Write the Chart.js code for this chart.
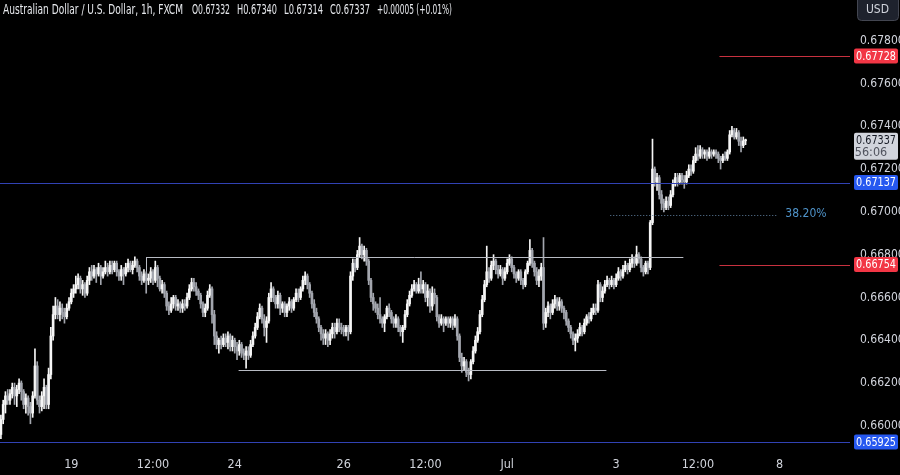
<!DOCTYPE html>
<html lang="en">
<head>
<meta charset="UTF-8">
<title>AUDUSD 1h</title>
<script src="https://cdn.jsdelivr.net/npm/chart.js"></script>
<style>
  html, body { margin: 0; padding: 0; background: #000; overflow: hidden; }
  #wrap { width: 900px; height: 475px; }
</style>
</head>
<body>
<div id="wrap"><canvas id="chart" width="900" height="475"></canvas></div>
<script>
// 1h candles, hour 0 = Jun 19 00:00 (weekends skipped), first candle is hour -31
const firstHour = -31;

const opens = [
  0.6596,0.6603,0.6610,0.6614,0.6612,0.6615,0.6618,0.6614,0.6617,0.6620,
  0.6616,0.6610,0.6613,0.6609,0.6606,0.6614,0.6628,0.6612,0.6609,0.6614,
  0.6618,0.6610,0.6624,0.6642,0.6652,0.6656,0.6652,0.6655,0.6653,0.6651,
  0.6655,0.6658,0.6662,0.6664,0.6666,0.6669,0.6664,0.6666,0.6662,0.6668,
  0.6672,0.6670,0.6673,0.6671,0.6674,0.6670,0.6672,0.6674,0.6672,0.6675,
  0.6673,0.6676,0.6672,0.6670,0.6673,0.6671,0.6674,0.6676,0.6673,0.6675,
  0.6677,0.6674,0.6670,0.6668,0.6671,0.6668,0.6669,0.6672,0.6668,0.6674,
  0.6669,0.6664,0.6666,0.6662,0.6656,0.6654,0.6657,0.6660,0.6656,0.6657,
  0.6655,0.6657,0.6656,0.6660,0.6664,0.6667,0.6665,0.6663,0.6661,0.6657,
  0.6653,0.6655,0.6661,0.6664,0.6652,0.6642,0.6638,0.6640,0.6638,0.6641,
  0.6639,0.6642,0.6637,0.6640,0.6637,0.6635,0.6638,0.6634,0.6633,0.6635,
  0.6633,0.6638,0.6642,0.6646,0.6651,0.6655,0.6650,0.6646,0.6649,0.6660,
  0.6664,0.6660,0.6657,0.6661,0.6655,0.6657,0.6653,0.6656,0.6658,0.6655,
  0.6659,0.6662,0.6660,0.6664,0.6668,0.6670,0.6666,0.6662,0.6657,0.6653,
  0.6650,0.6646,0.6643,0.6641,0.6643,0.6640,0.6643,0.6646,0.6644,0.6648,
  0.6646,0.6645,0.6644,0.6646,0.6644,0.6670,0.6676,0.6674,0.6680,0.6684,
  0.6680,0.6682,0.6677,0.6668,0.6660,0.6657,0.6655,0.6652,0.6650,0.6648,
  0.6651,0.6655,0.6653,0.6650,0.6648,0.6650,0.6646,0.6644,0.6646,0.6652,
  0.6657,0.6661,0.6664,0.6666,0.6663,0.6666,0.6664,0.6666,0.6660,0.6663,
  0.6656,0.6662,0.6660,0.6651,0.6648,0.6650,0.6648,0.6650,0.6648,0.6650,
  0.6647,0.6650,0.6642,0.6632,0.6628,0.6630,0.6625,0.6624,0.6630,0.6635,
  0.6640,0.6644,0.6652,0.6659,0.6666,0.6672,0.6669,0.6675,0.6677,0.6673,
  0.6671,0.6673,0.6669,0.6672,0.6676,0.6678,0.6674,0.6671,0.6669,0.6672,
  0.6668,0.6666,0.6672,0.6676,0.6682,0.6676,0.6672,0.6668,0.6670,0.6674,
  0.6648,0.6653,0.6656,0.6653,0.6657,0.6659,0.6656,0.6658,0.6655,0.6653,
  0.6649,0.6646,0.6643,0.6640,0.6641,0.6643,0.6646,0.6644,0.6648,0.6651,
  0.6650,0.6653,0.6655,0.6654,0.6666,0.6660,0.6663,0.6666,0.6668,0.6666,
  0.6668,0.6666,0.6669,0.6672,0.6670,0.6673,0.6675,0.6673,0.6676,0.6678,
  0.6676,0.6680,0.6678,0.6674,0.6672,0.6676,0.6674,0.6695,0.6720,0.6714,
  0.6716,0.6708,0.6704,0.6702,0.6705,0.6703,0.6708,0.6713,0.6716,0.6714,
  0.6717,0.6715,0.6714,0.6717,0.6720,0.6719,0.6724,0.6727,0.6726,0.6729,
  0.6727,0.6728,0.6726,0.6728,0.6727,0.6728,0.6727,0.6725,0.6724,0.6726,
  0.6725,0.6728,0.6736,0.6738,0.6735,0.6737,0.6733,0.6731,0.67332
];

const highs = [
  0.6605,0.6612,0.6616,0.6617,0.6617,0.6620,0.6620,0.6619,0.6622,0.6621,
  0.6617,0.6615,0.6614,0.6611,0.6616,0.6636,0.6630,0.6614,0.6616,0.6622,
  0.6619,0.6627,0.6646,0.6656,0.6660,0.6659,0.6658,0.6657,0.6655,0.6657,
  0.6660,0.6664,0.6666,0.6670,0.6671,0.6670,0.6668,0.6667,0.6670,0.6674,
  0.6675,0.6675,0.6674,0.6676,0.6675,0.6674,0.6677,0.6676,0.6677,0.6677,
  0.6677,0.6677,0.6673,0.6675,0.6674,0.6676,0.6678,0.6677,0.6677,0.6679,
  0.6678,0.6675,0.6672,0.6673,0.6672,0.6671,0.6674,0.6673,0.6677,0.6675,
  0.6670,0.6668,0.6667,0.6663,0.6658,0.6660,0.6661,0.6661,0.6659,0.6658,
  0.6659,0.6659,0.6662,0.6666,0.6669,0.6669,0.6667,0.6664,0.6662,0.6658,
  0.6657,0.6663,0.6666,0.6665,0.6654,0.6644,0.6641,0.6642,0.6643,0.6643,
  0.6644,0.6643,0.6642,0.6641,0.6639,0.6640,0.6639,0.6636,0.6637,0.6637,
  0.6640,0.6644,0.6648,0.6653,0.6657,0.6656,0.6652,0.6651,0.6662,0.6667,
  0.6665,0.6661,0.6663,0.6662,0.6658,0.6658,0.6657,0.6660,0.6659,0.6660,
  0.6664,0.6664,0.6665,0.6670,0.6672,0.6671,0.6667,0.6663,0.6659,0.6655,
  0.6651,0.6647,0.6645,0.6645,0.6644,0.6645,0.6648,0.6648,0.6650,0.6650,
  0.6648,0.6647,0.6647,0.6647,0.6672,0.6678,0.6678,0.6682,0.6688,0.6685,
  0.6684,0.6683,0.6678,0.6669,0.6662,0.6658,0.6657,0.6660,0.6651,0.6652,
  0.6656,0.6657,0.6654,0.6651,0.6652,0.6651,0.6647,0.6647,0.6654,0.6659,
  0.6663,0.6666,0.6668,0.6667,0.6669,0.6672,0.6668,0.6667,0.6666,0.6664,
  0.6665,0.6664,0.6661,0.6652,0.6652,0.6651,0.6651,0.6651,0.6651,0.6651,
  0.6652,0.6651,0.6643,0.6634,0.6632,0.6631,0.6627,0.6631,0.6637,0.6642,
  0.6646,0.6654,0.6661,0.6668,0.6684,0.6674,0.6677,0.6680,0.6678,0.6675,
  0.6675,0.6674,0.6674,0.6678,0.6680,0.6679,0.6675,0.6672,0.6673,0.6673,
  0.6669,0.6673,0.6677,0.6687,0.6683,0.6677,0.6674,0.6673,0.6676,0.6688,
  0.6655,0.6658,0.6657,0.6659,0.6661,0.6660,0.6660,0.6659,0.6656,0.6654,
  0.6650,0.6647,0.6644,0.6643,0.6645,0.6648,0.6647,0.6650,0.6652,0.6653,
  0.6655,0.6657,0.6657,0.6668,0.6667,0.6665,0.6668,0.6670,0.6669,0.6670,
  0.6669,0.6671,0.6674,0.6673,0.6675,0.6677,0.6676,0.6678,0.6680,0.6679,
  0.6684,0.6681,0.6679,0.6675,0.6677,0.6677,0.6696,0.6734,0.6721,0.6718,
  0.6717,0.6710,0.6706,0.6707,0.6707,0.6710,0.6715,0.6718,0.6718,0.6718,
  0.6718,0.6717,0.6719,0.6722,0.6722,0.6726,0.6730,0.6731,0.6731,0.6730,
  0.6729,0.6729,0.6730,0.6729,0.6729,0.6729,0.6728,0.6726,0.6727,0.6728,
  0.6729,0.6738,0.6740,0.6739,0.6739,0.6738,0.6735,0.6735,0.67340
];

const lows = [
  0.6594,0.6601,0.6606,0.6610,0.6610,0.6613,0.6610,0.6609,0.6615,0.6612,
  0.6608,0.6606,0.6605,0.6601,0.6604,0.6613,0.6610,0.6606,0.6607,0.6608,
  0.6608,0.6608,0.6622,0.6640,0.6650,0.6650,0.6649,0.6650,0.6648,0.6650,
  0.6654,0.6657,0.6660,0.6662,0.6664,0.6662,0.6661,0.6660,0.6661,0.6666,
  0.6668,0.6669,0.6667,0.6670,0.6666,0.6669,0.6671,0.6670,0.6671,0.6671,
  0.6672,0.6670,0.6668,0.6668,0.6666,0.6670,0.6672,0.6672,0.6671,0.6674,
  0.6672,0.6668,0.6666,0.6667,0.6662,0.6666,0.6667,0.6666,0.6667,0.6665,
  0.6663,0.6662,0.6660,0.6654,0.6652,0.6653,0.6655,0.6654,0.6654,0.6653,
  0.6653,0.6654,0.6655,0.6659,0.6663,0.6663,0.6661,0.6659,0.6655,0.6651,
  0.6651,0.6654,0.6660,0.6648,0.6638,0.6636,0.6634,0.6636,0.6637,0.6637,
  0.6636,0.6635,0.6635,0.6634,0.6631,0.6633,0.6632,0.6631,0.6627,0.6631,
  0.6632,0.6637,0.6641,0.6645,0.6650,0.6648,0.6642,0.6639,0.6648,0.6658,
  0.6658,0.6655,0.6655,0.6652,0.6653,0.6651,0.6651,0.6654,0.6653,0.6654,
  0.6658,0.6658,0.6659,0.6663,0.6666,0.6664,0.6660,0.6655,0.6651,0.6648,
  0.6644,0.6640,0.6638,0.6638,0.6637,0.6638,0.6641,0.6641,0.6643,0.6644,
  0.6643,0.6642,0.6642,0.6640,0.6643,0.6668,0.6672,0.6673,0.6679,0.6678,
  0.6677,0.6675,0.6666,0.6658,0.6654,0.6653,0.6650,0.6648,0.6646,0.6644,
  0.6650,0.6651,0.6648,0.6646,0.6646,0.6644,0.6642,0.6639,0.6645,0.6651,
  0.6656,0.6660,0.6663,0.6662,0.6662,0.6662,0.6662,0.6658,0.6656,0.6653,
  0.6654,0.6657,0.6649,0.6646,0.6647,0.6644,0.6647,0.6646,0.6646,0.6645,
  0.6646,0.6640,0.6630,0.6625,0.6626,0.6623,0.6621,0.6622,0.6629,0.6634,
  0.6639,0.6643,0.6651,0.6658,0.6665,0.6667,0.6668,0.6673,0.6671,0.6669,
  0.6670,0.6666,0.6668,0.6671,0.6675,0.6672,0.6669,0.6667,0.6668,0.6666,
  0.6664,0.6665,0.6671,0.6675,0.6674,0.6670,0.6666,0.6665,0.6668,0.6645,
  0.6646,0.6651,0.6650,0.6652,0.6655,0.6654,0.6654,0.6653,0.6650,0.6647,
  0.6644,0.6641,0.6638,0.6635,0.6639,0.6642,0.6642,0.6643,0.6647,0.6648,
  0.6649,0.6652,0.6652,0.6653,0.6658,0.6658,0.6662,0.6665,0.6664,0.6665,
  0.6664,0.6665,0.6668,0.6668,0.6669,0.6672,0.6671,0.6672,0.6674,0.6674,
  0.6675,0.6676,0.6672,0.6670,0.6671,0.6671,0.6673,0.6694,0.6712,0.6710,
  0.6706,0.6701,0.6700,0.6701,0.6701,0.6702,0.6707,0.6712,0.6712,0.6713,
  0.6713,0.6711,0.6713,0.6716,0.6717,0.6718,0.6723,0.6724,0.6725,0.6725,
  0.6725,0.6724,0.6725,0.6725,0.6726,0.6725,0.6723,0.6720,0.6723,0.6724,
  0.6724,0.6727,0.6735,0.6734,0.6734,0.6731,0.6728,0.6730,0.67314
];

const closes = [
  0.6603,0.6610,0.6614,0.6612,0.6615,0.6618,0.6614,0.6617,0.6620,0.6616,
  0.6610,0.6613,0.6609,0.6606,0.6614,0.6628,0.6612,0.6609,0.6614,0.6618,
  0.6610,0.6624,0.6642,0.6652,0.6656,0.6652,0.6655,0.6653,0.6651,0.6655,
  0.6658,0.6662,0.6664,0.6666,0.6669,0.6664,0.6666,0.6662,0.6668,0.6672,
  0.6670,0.6673,0.6671,0.6674,0.6670,0.6672,0.6674,0.6672,0.6675,0.6673,
  0.6676,0.6672,0.6670,0.6673,0.6671,0.6674,0.6676,0.6673,0.6675,0.6677,
  0.6674,0.6670,0.6668,0.6671,0.6668,0.6669,0.6672,0.6668,0.6674,0.6669,
  0.6664,0.6666,0.6662,0.6656,0.6654,0.6657,0.6660,0.6656,0.6657,0.6655,
  0.6657,0.6656,0.6660,0.6664,0.6667,0.6665,0.6663,0.6661,0.6657,0.6653,
  0.6655,0.6661,0.6664,0.6652,0.6642,0.6638,0.6640,0.6638,0.6641,0.6639,
  0.6642,0.6637,0.6640,0.6637,0.6635,0.6638,0.6634,0.6633,0.6635,0.6633,
  0.6638,0.6642,0.6646,0.6651,0.6655,0.6650,0.6646,0.6649,0.6660,0.6664,
  0.6660,0.6657,0.6661,0.6655,0.6657,0.6653,0.6656,0.6658,0.6655,0.6659,
  0.6662,0.6660,0.6664,0.6668,0.6670,0.6666,0.6662,0.6657,0.6653,0.6650,
  0.6646,0.6643,0.6641,0.6643,0.6640,0.6643,0.6646,0.6644,0.6648,0.6646,
  0.6645,0.6644,0.6646,0.6644,0.6670,0.6676,0.6674,0.6680,0.6684,0.6680,
  0.6682,0.6677,0.6668,0.6660,0.6657,0.6655,0.6652,0.6650,0.6648,0.6651,
  0.6655,0.6653,0.6650,0.6648,0.6650,0.6646,0.6644,0.6646,0.6652,0.6657,
  0.6661,0.6664,0.6666,0.6663,0.6666,0.6664,0.6666,0.6660,0.6663,0.6656,
  0.6662,0.6660,0.6651,0.6648,0.6650,0.6648,0.6650,0.6648,0.6650,0.6647,
  0.6650,0.6642,0.6632,0.6628,0.6630,0.6625,0.6624,0.6630,0.6635,0.6640,
  0.6644,0.6652,0.6659,0.6666,0.6672,0.6669,0.6675,0.6677,0.6673,0.6671,
  0.6673,0.6669,0.6672,0.6676,0.6678,0.6674,0.6671,0.6669,0.6672,0.6668,
  0.6666,0.6672,0.6676,0.6682,0.6676,0.6672,0.6668,0.6670,0.6674,0.6648,
  0.6653,0.6656,0.6653,0.6657,0.6659,0.6656,0.6658,0.6655,0.6653,0.6649,
  0.6646,0.6643,0.6640,0.6641,0.6643,0.6646,0.6644,0.6648,0.6651,0.6650,
  0.6653,0.6655,0.6654,0.6666,0.6660,0.6663,0.6666,0.6668,0.6666,0.6668,
  0.6666,0.6669,0.6672,0.6670,0.6673,0.6675,0.6673,0.6676,0.6678,0.6676,
  0.6680,0.6678,0.6674,0.6672,0.6676,0.6674,0.6695,0.6720,0.6714,0.6716,
  0.6708,0.6704,0.6702,0.6705,0.6703,0.6708,0.6713,0.6716,0.6714,0.6717,
  0.6715,0.6714,0.6717,0.6720,0.6719,0.6724,0.6727,0.6726,0.6729,0.6727,
  0.6728,0.6726,0.6728,0.6727,0.6728,0.6727,0.6725,0.6724,0.6726,0.6725,
  0.6728,0.6736,0.6738,0.6735,0.6737,0.6733,0.6731,0.67332,0.67337
];

const timeTicks = [0, 36, 72, 120, 156, 192, 240, 276, 312];
const timeLabels = ['19', '12:00', '24', '26', '12:00', 'Jul', '3', '12:00', '8'];
const priceTicks = [0.660, 0.662, 0.664, 0.666, 0.668, 0.670, 0.672, 0.674, 0.676, 0.678];

// drawn levels
const blueLevels = [0.67137, 0.65925];
const redLevels = [0.67728, 0.66754];
const redFromHour = 285.5;
const rangeTop = [0.66789, 33, 269.6];      // price, from hour, to hour
const rangeBottom = [0.66263, 73.7, 235.7];
const fibLevel = [0.66985, 237.4, 311];
const fibLabel = '38.20%';
const countdown = '56:06';

const hours = opens.map((_, i) => firstHour + i);
const UP = '#f6f6f6', DOWN = '#a3a6ae';
const candleColors = opens.map((o, i) => closes[i] >= o ? UP : DOWN);
const FONT = "'Liberation Sans Narrow', 'DejaVu Sans Condensed', 'Liberation Sans', sans-serif";

const overlay = {
  id: 'overlay',
  beforeDraw(chart) {
    const ctx = chart.ctx;
    ctx.save();
    ctx.fillStyle = '#000';
    ctx.fillRect(0, 0, chart.width, chart.height);
    ctx.restore();
  },
  afterDatasetsDraw(chart) {
    const { ctx, chartArea: a, scales: { x, y } } = chart;
    ctx.save();
    ctx.beginPath();
    ctx.rect(a.left, a.top, a.right - a.left, a.bottom - a.top);
    ctx.clip();
    const hline = (p, h0, h1, color, dash) => {
      const py = Math.round(y.getPixelForValue(p)) + 0.5;
      const x0 = h0 == null ? a.left : x.getPixelForValue(h0);
      const x1 = h1 == null ? a.right : x.getPixelForValue(h1);
      ctx.strokeStyle = color;
      ctx.lineWidth = 1;
      ctx.setLineDash(dash || []);
      ctx.beginPath();
      ctx.moveTo(x0, py);
      ctx.lineTo(x1, py);
      ctx.stroke();
    };
    blueLevels.forEach(p => hline(p, null, null, '#3142b4'));
    redLevels.forEach(p => hline(p, redFromHour, null, '#c8313f'));
    hline(rangeTop[0], rangeTop[1], rangeTop[2], '#b8bbc3');
    hline(rangeBottom[0], rangeBottom[1], rangeBottom[2], '#b8bbc3');
    // small left edge of the range box
    const ex = Math.round(x.getPixelForValue(rangeTop[1])) + 0.5;
    ctx.setLineDash([]);
    ctx.beginPath();
    ctx.moveTo(ex, y.getPixelForValue(rangeTop[0]));
    ctx.lineTo(ex, y.getPixelForValue(0.6672));
    ctx.stroke();
    hline(fibLevel[0], fibLevel[1], fibLevel[2], '#5f7f9f', [1, 2]);
    ctx.setLineDash([]);
    ctx.fillStyle = '#4f93c9';
    ctx.font = '12px ' + FONT;
    ctx.textAlign = 'left';
    ctx.textBaseline = 'middle';
    ctx.fillText(fibLabel, x.getPixelForValue(fibLevel[2]) + 8, y.getPixelForValue(fibLevel[0]) - 1);
    ctx.restore();
  },
  afterDraw(chart) {
    const { ctx, scales: { y } } = chart;
    ctx.save();
    const bx = y.left + 4, bw = 44;
    const box = (top, h, bg) => {
      ctx.fillStyle = bg;
      ctx.beginPath();
      ctx.roundRect(bx, top, bw, h, 2);
      ctx.fill();
    };
    ctx.font = '12.5px ' + FONT;
    ctx.textAlign = 'center';
    ctx.textBaseline = 'middle';
    const tag = (p, bg, fg) => {
      const py = y.getPixelForValue(p);
      box(py - 7.5, 15, bg);
      ctx.fillStyle = fg;
      ctx.fillText(p.toFixed(5), bx + bw / 2, py + 0.5, bw - 4);
    };
    redLevels.forEach(p => tag(p, '#f23645', '#ffffff'));
    blueLevels.forEach(p => tag(p, '#2658f0', '#ffffff'));
    // last price with countdown
    const last = closes[closes.length - 1];
    const ly = y.getPixelForValue(last);
    box(ly - 7, 27, '#d1d4dc');
    ctx.fillStyle = '#131722';
    ctx.fillText(last.toFixed(5), bx + bw / 2, ly + 0.5, bw - 4);
    ctx.fillStyle = '#50535e';
    ctx.fillText(countdown, bx + bw / 2 - 5, ly + 13, bw - 4);

    // currency button
    ctx.fillStyle = '#1e222d';
    ctx.strokeStyle = '#434651';
    ctx.lineWidth = 1;
    ctx.beginPath();
    ctx.roundRect(857.5, -4.5, 41, 25, 4);
    ctx.fill();
    ctx.stroke();
    ctx.fillStyle = '#d1d4dc';
    ctx.font = '12px ' + FONT;
    ctx.fillText('USD', 877.5, 10);

    // legend line
    const o = opens[opens.length - 1], h = highs[highs.length - 1];
    const l = lows[lows.length - 1], c = closes[closes.length - 1];
    const prevC = closes[closes.length - 2];
    const chg = c - prevC;
    const parts = [
      ['Australian Dollar / U.S. Dollar, 1h, FXCM', 3, 180],
      ['O' + o.toFixed(5), 192, 38],
      ['H' + h.toFixed(5), 237, 40],
      ['L' + l.toFixed(5), 284, 39],
      ['C' + c.toFixed(5), 330, 40],
      ['+' + chg.toFixed(5) + ' (+' + (chg / prevC * 100).toFixed(2) + '%)', 377, 75]
    ];
    ctx.textAlign = 'left';
    ctx.font = '14px ' + FONT;
    ctx.fillStyle = '#e6e8ec';
    parts.forEach(([t, px, w]) => ctx.fillText(t, px, 10, w));
    ctx.restore();
  }
};

new Chart(document.getElementById('chart'), {
  type: 'bar',
  data: {
    datasets: [
      {
        label: 'body',
        data: hours.map((t, i) => ({ x: t, y: [opens[i], closes[i]] })),
        backgroundColor: candleColors,
        barThickness: 2,
        minBarLength: 1,
        grouped: false
      },
      {
        label: 'wick',
        data: hours.map((t, i) => ({ x: t, y: [lows[i], highs[i]] })),
        backgroundColor: candleColors,
        barThickness: 1,
        grouped: false
      }
    ]
  },
  options: {
    responsive: false,
    animation: false,
    devicePixelRatio: 1,
    layout: { padding: 0 },
    plugins: { legend: { display: false }, tooltip: { enabled: false } },
    scales: {
      x: {
        type: 'linear',
        min: -31.4,
        max: 343,
        offset: false,
        grid: { display: false, drawTicks: false, offset: false },
        border: { display: false },
        afterBuildTicks: s => { s.ticks = timeTicks.map(v => ({ value: v })); },
        afterFit: s => { s.height = 23; s.paddingLeft = 0; s.paddingRight = 0; },
        ticks: {
          autoSkip: false,
          maxRotation: 0,
          padding: 5,
          color: '#d1d4dc',
          font: { family: FONT, size: 12.5 },
          callback: v => timeLabels[timeTicks.indexOf(v)]
        }
      },
      y: {
        type: 'linear',
        position: 'right',
        min: 0.65878,
        max: 0.6799,
        grid: { display: false, drawTicks: false },
        border: { display: false },
        afterBuildTicks: s => { s.ticks = priceTicks.map(v => ({ value: v })); },
        afterFit: s => { s.width = 50; s.paddingTop = 0; s.paddingBottom = 0; },
        ticks: {
          padding: 10,
          color: '#d1d4dc',
          font: { family: FONT, size: 12 },
          callback: v => v.toFixed(5)
        }
      }
    }
  },
  plugins: [overlay]
});
</script>
</body>
</html>
